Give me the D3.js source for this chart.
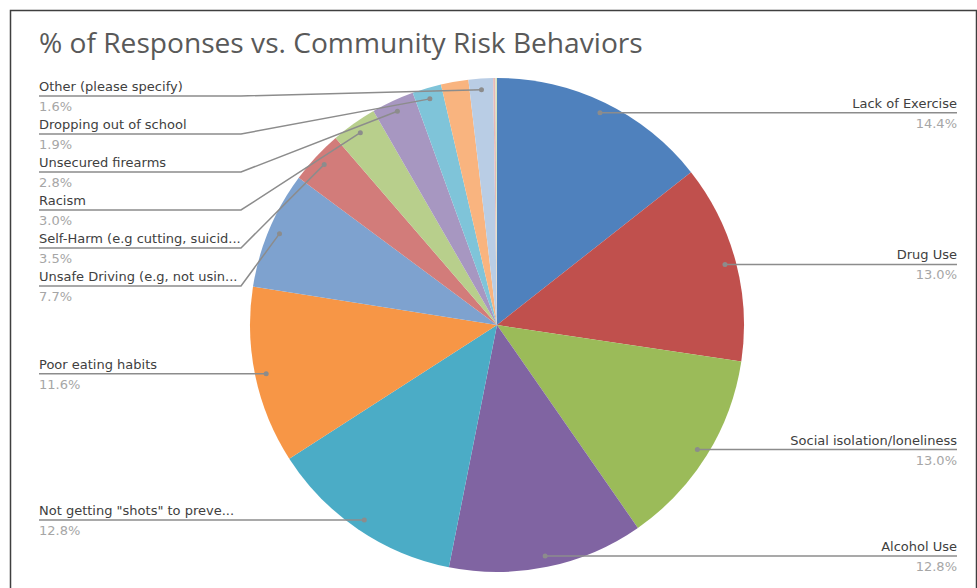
<!DOCTYPE html>
<html lang="en">
  <head>
    <meta charset="utf-8" />
    <title>% of Responses vs. Community Risk Behaviors</title>
    <script type="text/javascript" src="https://d3js.org/d3.v7.min.js"></script>
    <style>
      body { margin: 0; background: #fff; }
      svg { display: block; font-family: "Open Sans", "Liberation Sans", sans-serif; }
      .lbl { font-family: "DejaVu Sans", sans-serif; font-size: 13px; }
    </style>
  </head>
  <body>
    <div id="graph"></div>

    <script type="text/javascript">
      /***************
       * data
       ***************/

      const categories = [
        "Lack of Exercise",
        "Drug Use",
        "Social isolation/loneliness",
        "Alcohol Use",
        "Not getting \"shots\" to preve...",
        "Poor eating habits",
        "Unsafe Driving (e.g, not usin...",
        "Self-Harm (e.g cutting, suicid...",
        "Racism",
        "Unsecured firearms",
        "Dropping out of school",
        "(unlabeled)",
        "Other (please specify)",
        "(unlabeled 2)",
        "(unlabeled 3)"
      ];
      const percents = [14.4, 13.0, 13.0, 12.8, 12.8, 11.6, 7.7, 3.5, 3.0, 2.8, 1.9, 1.8, 1.6, 0.15, 0.1];
      // slices whose label is not shown in the chart
      const hiddenLabels = ["(unlabeled)", "(unlabeled 2)", "(unlabeled 3)"];
      const colors = [
        "#4f81bd", "#c0504d", "#9bbb59", "#8064a2", "#4bacc6", "#f79646",
        "#7ea2cf", "#d27c7a", "#b8cf8c", "#a797c1", "#7fc4d9", "#f9b47f",
        "#b9cde5", "#e6b9b8", "#d7e4bd"
      ];

      const data = categories.map((c, i) => ({ name: c, value: percents[i] }));

      /***************************
       * create svg
       **************************/

      const width = 977;
      const height = 588;
      const cx = 497, cy = 325, radius = 247;

      const svg = d3.select("div#graph")
        .append("svg")
        .attr("width", width)
        .attr("height", height);

      // chart frame
      svg.append("rect")
        .attr("x", 10.5).attr("y", 10.5)
        .attr("width", 966).attr("height", 600)
        .attr("fill", "#fff")
        .attr("stroke", "#3f3f3f")
        .attr("stroke-width", 1.5);

      // title
      const title = svg.append("text")
        .attr("x", 39).attr("y", 53)
        .attr("fill", "#595959")
        .attr("font-size", 24)
        .text("% of Responses vs. Community Risk Behaviors");
      // fit title to the reference width
      const tl = title.node().getComputedTextLength();
      title.attr("font-size", 24 * 604 / tl);

      /**************
       * pie
       **************/

      const pie = d3.pie().sort(null).value(d => d.value);
      const arc = d3.arc().innerRadius(0).outerRadius(radius);
      const dotArc = d3.arc().innerRadius(radius * 0.955).outerRadius(radius * 0.955);

      const arcsData = pie(data);

      const g = svg.append("g").attr("transform", `translate(${cx},${cy})`);

      g.selectAll("path.slice")
        .data(arcsData)
        .enter()
        .append("path")
        .attr("class", "slice")
        .attr("fill", (d, i) => colors[i])
        .attr("d", arc);

      /**************
       * labels
       **************/

      const fmt = d3.format(".1f");
      const labelled = arcsData
        .filter(d => !hiddenLabels.includes(d.data.name))
        .map(d => {
          const c = dotArc.centroid(d);
          return { d: d, x: c[0] + cx, y: c[1] + cy, mid: (d.startAngle + d.endAngle) / 2 };
        });

      const right = labelled.filter(l => l.mid < Math.PI);
      const left = labelled.filter(l => l.mid >= Math.PI).sort((a, b) => a.y - b.y);

      // stack left labels so they do not overlap
      let prev = -Infinity;
      left.forEach(l => {
        l.ly = Math.max(l.y, 96, prev + 38);
        prev = l.ly;
      });
      right.forEach(l => { l.ly = l.y; });

      const leftX = 39, elbowX = 241, rightX = 957;

      const line = d3.line();
      const lg = svg.append("g");

      left.forEach(l => {
        const pts = l.ly === l.y
          ? [[leftX, l.ly], [l.x, l.y]]
          : [[leftX, l.ly], [elbowX, l.ly], [l.x, l.y]];
        lg.append("path")
          .attr("d", line(pts))
          .attr("fill", "none")
          .attr("stroke", "#8c8c8c")
          .attr("stroke-width", 1.5);
        lg.append("text")
          .attr("class", "lbl")
          .attr("x", leftX).attr("y", l.ly - 5)
          .attr("fill", "#404040")
          .text(l.d.data.name);
        lg.append("text")
          .attr("class", "lbl")
          .attr("x", leftX).attr("y", l.ly + 15)
          .attr("fill", "#a6a6a6")
          .text(fmt(l.d.data.value) + "%");
      });

      right.forEach(l => {
        lg.append("path")
          .attr("d", line([[l.x, l.y], [rightX, l.ly]]))
          .attr("fill", "none")
          .attr("stroke", "#8c8c8c")
          .attr("stroke-width", 1.5);
        lg.append("text")
          .attr("class", "lbl")
          .attr("x", rightX).attr("y", l.ly - 5)
          .attr("text-anchor", "end")
          .attr("fill", "#404040")
          .text(l.d.data.name);
        lg.append("text")
          .attr("class", "lbl")
          .attr("x", rightX).attr("y", l.ly + 15)
          .attr("text-anchor", "end")
          .attr("fill", "#a6a6a6")
          .text(fmt(l.d.data.value) + "%");
      });

      // leader dots
      lg.selectAll("circle")
        .data(labelled)
        .enter()
        .append("circle")
        .attr("cx", l => l.x)
        .attr("cy", l => l.y)
        .attr("r", 2.5)
        .attr("fill", "#8c8c8c");
    </script>
  </body>
</html>
